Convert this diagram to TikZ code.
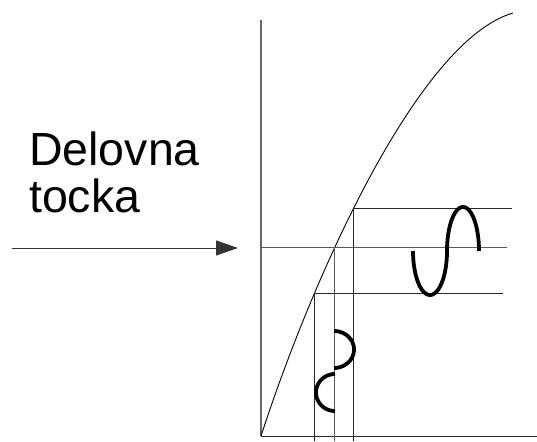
\documentclass[tikz,border=0pt]{standalone}
\usepackage{fontspec}
\setmainfont{Liberation Sans}
\usepackage{tikz}
\usetikzlibrary{arrows.meta,positioning,calc}
\tikzset{
  axis/.style={line width=1.4pt,black!60},
  guide/.style={line width=1pt,black!85},
  midline/.style={line width=1pt,black!65},
  curve/.style={line width=0.9pt,black},
  wave/.style={line width=3.8pt,black},
  arr/.style={-{Triangle[length=22pt,width=15pt]},line width=1pt,black!80},
}

\begin{document}
\begin{tikzpicture}[x=1pt,y=-1pt,
  lbl/.style={font=\fontsize{46.5}{50}\selectfont,inner sep=0pt,anchor=base west},
]
  \useasboundingbox (0,0) rectangle (537,441);

  %% ── Points ───────────────────────────────────────────────────────────────
  \coordinate (O)   at (261,436);
  \coordinate (ytop) at (261,20);
  \coordinate (xend) at (537,436);
  \coordinate (top) at (513,13);
  \coordinate (Hi)  at (353,208);
  \coordinate (Q)   at (334,247);
  \coordinate (Lo)  at (314,293);

  %% ── Axes ─────────────────────────────────────────────────────────────────
  \draw[axis] (O) -- (ytop);
  \draw[guide] (O) -- (xend);

  %% ── Characteristic ───────────────────────────────────────────────────────
  \draw[curve] (O) .. controls (315,270) and (420,40) .. (top);

  %% ── Guide lines ──────────────────────────────────────────────────────────
  \draw[guide]   (Hi) -- (512,208);
  \draw[midline] (O |- Q) -- (507,247);
  \draw[guide]   (Lo) -- (503,293);
  \draw[guide]   (Lo) -- (Lo |- 0,441);
  \draw[midline] (Q)  -- (Q |- 0,441);
  \draw[guide]   (Hi) -- (Hi |- 0,441);

  %% ── Output and input signals ─────────────────────────────────────────────
  \draw[wave] plot[domain=0:180,samples=40] ({430-17*cos(\x)},{251+44*sin(\x)})
              -- plot[domain=0:180,samples=40] ({463-16*cos(\x)},{251-44*sin(\x)});
  \draw[wave] plot[domain=0:180,samples=40] ({334+20*sin(\x)},{349.5-18.5*cos(\x)});
  \draw[wave] plot[domain=0:180,samples=40] ({335-19*sin(\x)},{392.5-18.5*cos(\x)});

  %% ── Label and arrow ──────────────────────────────────────────────────────
  \node[lbl] (dl1) at (29,165) {Delovna};
  \node[lbl] (dl2) at (29,212) {tocka};
  \coordinate (atail) at (12,248);
  \coordinate (atip)  at (238,248);
  \draw[arr] (atail) -- (atip);
\end{tikzpicture}
\end{document}
